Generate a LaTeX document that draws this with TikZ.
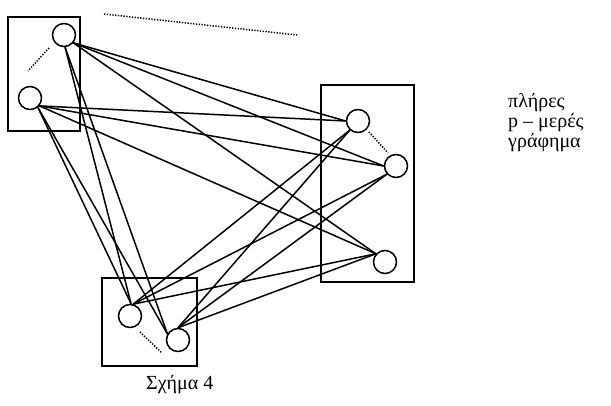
\documentclass[tikz,border=0pt]{standalone}
\usepackage{fontspec}
\setmainfont{Liberation Serif}
\newfontfamily\grkserif{Liberation Serif}
\begin{document}
\begin{tikzpicture}[x=1pt,y=-1pt,
  vtx/.style={circle,draw,line width=1.5pt,minimum size=23pt,inner sep=0pt},
  part/.style={draw,line width=2pt,inner sep=0pt},
  edge/.style={line width=1.5pt},
  hint/.style={line width=1.5pt,dash pattern=on 1.3pt off 1.5pt},
  lbl/.style={font=\grkserif\fontsize{20}{24}\selectfont,inner sep=0pt,anchor=base west}]
\useasboundingbox (0,0) rectangle (611,405);

% the three parts
\node[part,minimum width=72pt,minimum height=114pt] (p1) at (44,74) {};
\node[part,minimum width=93pt,minimum height=197pt] (p2) at (367.5,183.5) {};
\node[part,minimum width=95pt,minimum height=88pt] (p3) at (149.5,322) {};

% vertices
\node[vtx] (a1) at (64,35) {};
\node[vtx] (a2) at (30,98) {};
\node[vtx] (b1) at (358,121) {};
\node[vtx] (b2) at (396,166) {};
\node[vtx] (b3) at (385,262) {};
\node[vtx] (c1) at (130,316) {};
\node[vtx] (c2) at (178,340) {};

% dotted marks for the omitted vertices and parts
\coordinate (d1s) at (49,48);  \coordinate (d1e) at (28,71);
\coordinate (d2s) at (369,132); \coordinate (d2e) at (388,153);
\coordinate (d3s) at (140,332); \coordinate (d3e) at (162,353);
\coordinate (dts) at (104,14); \coordinate (dte) at (297,35);
\draw[hint] (d1s) -- (d1e);
\draw[hint] (d2s) -- (d2e);
\draw[hint] (d3s) -- (d3e);
\draw[hint] (dts) -- (dte);

% all edges between different parts
\foreach \u in {a1,a2}{
  \draw[edge] (\u.-40) -- (b1.180);
  \draw[edge] (\u.-40) -- (b2.180);
  \draw[edge] (\u.-40) -- (b3.138);
}
\draw[edge] (a1.-85) -- (c1.85);
\draw[edge] (a1.-85) -- (c2.150);
\draw[edge] (a2.-50) -- (c1.85);
\draw[edge] (a2.-50) -- (c2.150);
\draw[edge] (b1.228) -- (c1.75);
\draw[edge] (b1.228) -- (c2.90);
\draw[edge] (b2.222) -- (c1.75);
\draw[edge] (b2.222) -- (c2.90);
\draw[edge] (b3.138) -- (c1.75);
\draw[edge] (b3.138) -- (c2.90);

% labels
\node[lbl] (t1) at (508,107) {πλήρες};
\node[lbl] (t2) at (508,127) {p – μερές};
\node[lbl] (t3) at (508,147) {γράφημα};
\node[lbl] (cap) at (146,389) {Σχήμα 4};
\end{tikzpicture}
\end{document}
